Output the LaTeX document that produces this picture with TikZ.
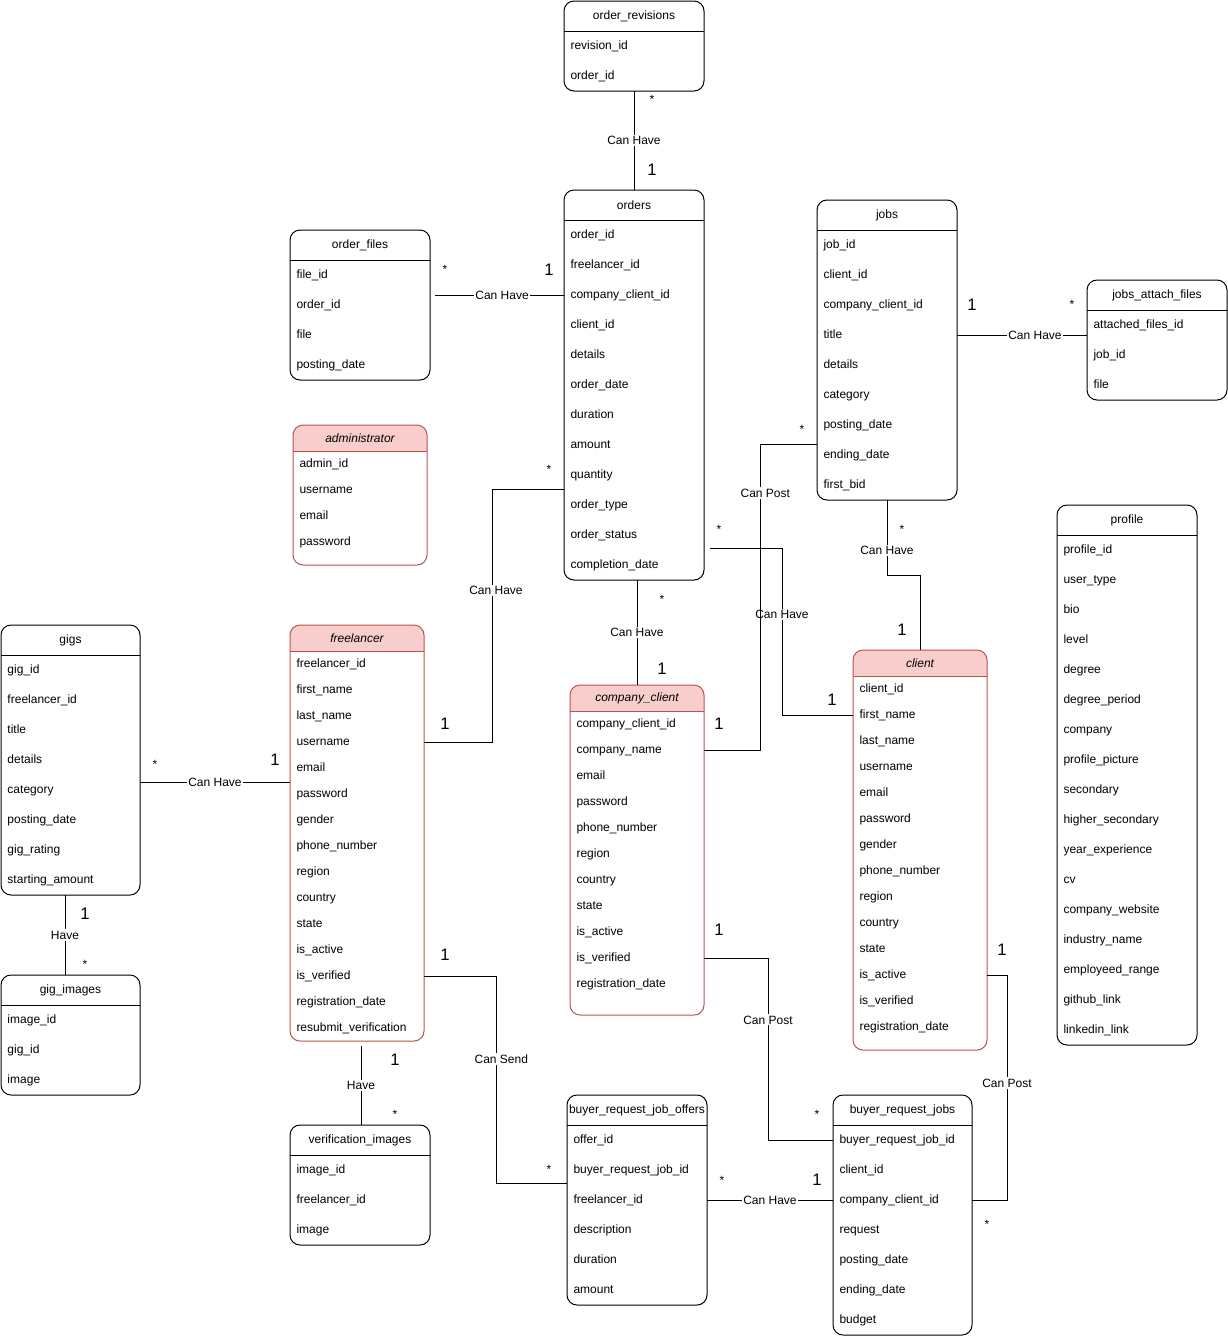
\documentclass[tikz,border=0pt]{standalone}
\usepackage{fontspec}
\setmainfont{Liberation Sans}
\usetikzlibrary{calc}
\definecolor{pinkfill}{HTML}{F8CECC}
\definecolor{pinkline}{HTML}{B85450}
\tikzset{
	boxw/.store in=\boxw, headh/.store in=\headh, rowh/.store in=\rowh, extrah/.store in=\extrah,
	edgecol/.store in=\edgecol, headcol/.store in=\headcol, titleshape/.store in=\titleshape,
	boxw=140, headh=30, rowh=30, extrah=0, edgecol=black, headcol=white, titleshape=\upshape,
	hilite/.style={boxw=134, headh=26, rowh=26, edgecol=pinkline, headcol=pinkfill, titleshape=\itshape},
	entbox/.style={rectangle, rounded corners=7.5pt, anchor=north west, inner sep=0pt, outer sep=0pt},
	rowtxt/.style={anchor=west, inner sep=0pt, text height=7pt, text depth=2pt},
	rel/.style={fill=white, inner sep=1pt, font=\fontsize{9}{10}\selectfont},
	one/.style={inner sep=0pt, font=\fontsize{12.5}{14}\selectfont},
	star/.style={inner sep=0pt, yshift=-1.5pt}
}
\begin{document}
\catcode`\_=12
\begin{tikzpicture}[x=0.75pt, y=-0.75pt, line width=0.75pt, every node/.style={font=\fontsize{9}{11}\selectfont}]
	\newcommand{\entity}[5][]{
		\begin{scope}[#1]
			\foreach \fld [count=\i] in {#5} {\node[rowtxt] (#2-\i) at ($(#3)+(6,\headh+\rowh*\i-\rowh/2)$) {\fld}; \xdef\nr{\i}}
			\pgfmathsetmacro\eh{\headh+\nr*\rowh+\extrah}
			\begin{scope}
				\clip (#3) rectangle ($(#3)+(\boxw,\headh)$);
				\fill[fill=\headcol, rounded corners=7.5pt] (#3) rectangle ($(#3)+(\boxw,\eh)$);
			\end{scope}
			\node[entbox, draw=\edgecol, minimum width=\boxw*0.75pt, minimum height=\eh*0.75pt] (#2) at (#3) {};
			\node (#2-t) at ($(#3)+(\boxw/2,\headh/2)$) {\titleshape #4};
			\draw[\edgecol] ($(#3)+(0,\headh)$) -- ++(\boxw,0);
		\end{scope}
	}
	\useasboundingbox (0,0) rectangle (1228,1336);
	\entity{orderrev}{564,1}{order_revisions}{revision_id,order_id}
	\entity{orders}{564,190}{orders}{order_id,freelancer_id,company_client_id,client_id,details,order_date,duration,amount,quantity,order_type,order_status,completion_date}
	\entity{orderfiles}{290,230}{order_files}{file_id,order_id,file,posting_date}
	\entity{jobs}{817,200}{jobs}{job_id,client_id,company_client_id,title,details,category,posting_date,ending_date,first_bid}
	\entity{jobsfiles}{1087,280}{jobs_attach_files}{attached_files_id,job_id,file}
	\entity[hilite, extrah=10]{admin}{293,425}{administrator}{admin_id,username,email,password}
	\entity[boxw=139]{gigs}{1,625}{gigs}{gig_id,freelancer_id,title,details,category,posting_date,gig_rating,starting_amount}
	\entity[boxw=139]{gigimages}{1,975}{gig_images}{image_id,gig_id,image}
	\entity[hilite]{freelancer}{290,625}{freelancer}{freelancer_id,first_name,last_name,username,email,password,gender,phone_number,region,country,state,is_active,is_verified,registration_date,resubmit_verification}
	\entity{verif}{290,1125}{verification_images}{image_id,freelancer_id,image}
	\entity[hilite, extrah=18]{company}{570,685}{company_client}{company_client_id,company_name,email,password,phone_number,region,country,state,is_active,is_verified,registration_date}
	\entity[hilite, extrah=10]{client}{853,650}{client}{client_id,first_name,last_name,username,email,password,gender,phone_number,region,country,state,is_active,is_verified,registration_date}
	\entity{profile}{1057,505}{profile}{profile_id,user_type,bio,level,degree,degree_period,company,profile_picture,secondary,higher_secondary,year_experience,cv,company_website,industry_name,employeed_range,github_link,linkedin_link}
	\entity{offers}{567,1095}{buyer_request_job_offers}{offer_id,buyer_request_job_id,freelancer_id,description,duration,amount}
	\entity[boxw=139]{brj}{833,1095}{buyer_request_jobs}{buyer_request_job_id,client_id,company_client_id,request,posting_date,ending_date,budget}
	\draw (orderrev.south) -- node[rel]{Can Have} (orders.north);
	\draw ($(orderfiles.east |- orders-3)+(5,0)$) -- node[rel, pos=.52]{Can Have} (orders.west |- orders-3);
	\draw (jobs.east |- jobs-4) -- node[rel, pos=.6]{Can Have} (jobsfiles.west |- jobs-4);
	\draw (freelancer.east |- freelancer-4) -- ++(68,0) |- node[rel, pos=.3, xshift=3pt]{Can Have} (orders.west |- 0,489);
	\draw (orders.south -| company.north) -- node[rel]{Can Have} (company.north);
	\draw ($(orders.east |- 0,548)+(6,0)$) -- ++(72,0) |- node[rel, pos=.2]{Can Have} (client.west |- client-2);
	\draw (jobs.south) -- node[rel, pos=.67]{Can Have} ++(0,75) -| (client.north);
	\draw (company.east |- company-2) -- ++(56,0) |- node[rel, pos=.42, xshift=4pt]{Can Post} (jobs.west |- 0,444);
	\draw (gigs.east |- 0,782) -- node[rel]{Can Have} (freelancer.west |- 0,782);
	\draw (gigs.south -| 65,0) -- node[rel]{Have} (gigimages.north -| 65,0);
	\draw ($(freelancer.south -| 361,0)+(0,5)$) -- node[rel]{Have} (verif.north -| 361,0);
	\draw (freelancer.east |- freelancer-13) -- ++(72,0) |- node[rel, pos=.2, xshift=4pt]{Can Send} (offers.west |- 0,1183);
	\draw (company.east |- company-10) -- ++(64,0) |- node[rel, pos=.17]{Can Post} (brj.west |- brj-1);
	\draw (client.east |- client-12) -- ++(20,0) |- node[rel, pos=.24]{Can Post} (brj.east |- brj-3);
	\draw (offers.east |- offers-3) -- node[rel]{Can Have} (brj.west |- offers-3);
	\foreach \x/\y [count=\k] in {652/170,549/270,972/305,445/724,662/669,832/700,902/630,719/724,275/760,85/914,395/1060,445/955,719/930,1002/950,817/1180}
		\node[one] (one\k) at (\x,\y) {1};
	\foreach \x/\y [count=\k] in {652/97,445/267,1072/302,549/467,662/597,719/527,902/527,802/427,155/762,85/962,395/1112,549/1167,817/1112,987/1222,722/1178}
		\node[star] (star\k) at (\x,\y) {*};
\end{tikzpicture}
\end{document}
